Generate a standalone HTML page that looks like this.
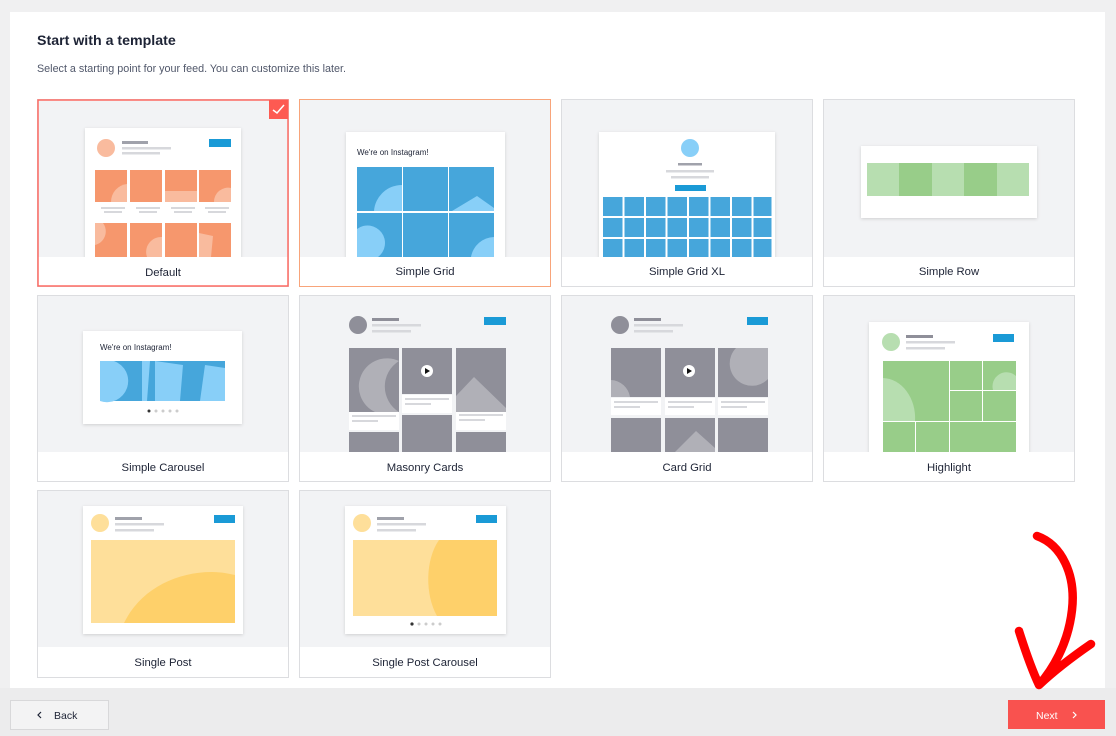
<!DOCTYPE html>
<html><head><meta charset="utf-8"><style>
html,body{margin:0;padding:0;background:#f0f0f1;width:1116px;height:736px;overflow:hidden}
svg{display:block}
text{font-family:"Liberation Sans",Arial,sans-serif}
</style></head><body>
<svg width="1116" height="736" viewBox="0 0 1116 736" xmlns="http://www.w3.org/2000/svg">
<defs>
<filter id="sh" x="-10%" y="-10%" width="120%" height="130%"><feDropShadow dx="0" dy="1" stdDeviation="1.5" flood-color="#000" flood-opacity="0.15"/></filter>
<clipPath id="c1"><rect x="37" y="99" width="252" height="158"/></clipPath>
<clipPath id="c2"><rect x="299" y="99" width="252" height="158"/></clipPath>
<clipPath id="c3"><rect x="561" y="99" width="252" height="158"/></clipPath>
<clipPath id="c6"><rect x="299" y="295" width="252" height="157"/></clipPath>
<clipPath id="c7"><rect x="561" y="295" width="252" height="157"/></clipPath>
<clipPath id="c8"><rect x="823" y="295" width="252" height="157"/></clipPath>
</defs>
<rect width="1116" height="736" fill="#f0f0f1"/>
<rect x="10" y="12" width="1095" height="676" fill="#fff"/>
<text x="37" y="45" font-size="14.2" font-weight="bold" fill="#1d2335">Start with a template</text>
<text x="37" y="72" font-size="10.6" fill="#50576a" textLength="309" lengthAdjust="spacingAndGlyphs">Select a starting point for your feed. You can customize this later.</text>

<g fill="#f2f3f5" stroke="#dcdde0" stroke-width="1">
<rect x="37.5" y="99.5" width="251" height="187"/>
<rect x="299.5" y="99.5" width="251" height="187"/>
<rect x="561.5" y="99.5" width="251" height="187"/>
<rect x="823.5" y="99.5" width="251" height="187"/>
<rect x="37.5" y="295.5" width="251" height="186"/>
<rect x="299.5" y="295.5" width="251" height="186"/>
<rect x="561.5" y="295.5" width="251" height="186"/>
<rect x="823.5" y="295.5" width="251" height="186"/>
<rect x="37.5" y="490.5" width="251" height="187"/>
<rect x="299.5" y="490.5" width="251" height="187"/>
</g>

<!-- 1 Default -->
<g clip-path="url(#c1)">
<rect x="85" y="128" width="156" height="140" fill="#fff" filter="url(#sh)"/>
<circle cx="106" cy="148" r="9" fill="#f9bb9e"/>
<rect x="122" y="141" width="26" height="3" fill="#a0a2ab"/><rect x="122" y="147" width="49" height="2.5" fill="#d7d8dc"/><rect x="122" y="152" width="38" height="2.5" fill="#d7d8dc"/>
<rect x="209" y="139" width="22" height="8" fill="#1a9ad6"/>
<g fill="#f6976d"><rect x="95" y="170" width="32" height="32"/><rect x="130" y="170" width="32" height="32"/><rect x="165" y="170" width="32" height="32"/><rect x="199" y="170" width="32" height="32"/>
<rect x="95" y="223" width="32" height="34"/><rect x="130" y="223" width="32" height="34"/><rect x="165" y="223" width="32" height="34"/><rect x="199" y="223" width="32" height="34"/></g>
<g fill="#f9bb9e"><path d="M111 202 A18 18 0 0 1 127 184 V202Z"/><rect x="165" y="191" width="32" height="11"/><path d="M214 202 A14 14 0 0 1 231 188 V202Z"/><path d="M95 223 H103 A14 14 0 0 1 95 245Z"/><path d="M147 257 A15 15 0 0 1 162 237 V257Z"/><path d="M199 233 L213 236 L211 257 H199Z"/></g>
<g fill="#d7d8dc"><rect x="101" y="207" width="24" height="2"/><rect x="136" y="207" width="24" height="2"/><rect x="171" y="207" width="24" height="2"/><rect x="205" y="207" width="24" height="2"/>
<rect x="104" y="211" width="18" height="2"/><rect x="139" y="211" width="18" height="2"/><rect x="174" y="211" width="18" height="2"/><rect x="208" y="211" width="18" height="2"/></g>
</g>
<rect x="37.5" y="257" width="251" height="29.5" fill="#fff"/>
<rect x="38" y="100" width="250" height="186" fill="none" stroke="#fd6b63" stroke-width="1.5"/>
<rect x="269" y="100" width="19" height="19" fill="#fd5a52"/>
<path d="M273 110 L277 113 L284 105" stroke="#fff" stroke-width="1.5" fill="none"/>
<text x="163" y="276" font-size="11.3" text-anchor="middle" fill="#1d2335">Default</text>

<!-- 2 Simple Grid -->
<g clip-path="url(#c2)">
<rect x="346" y="132" width="159" height="140" fill="#fff" filter="url(#sh)"/>
<text x="357" y="155" font-size="8" fill="#1d2335">We're on Instagram!</text>
<g fill="#46a6db"><rect x="357" y="167" width="45" height="44"/><rect x="403" y="167" width="45" height="44"/><rect x="449" y="167" width="45" height="44"/>
<rect x="357" y="213" width="45" height="44"/><rect x="403" y="213" width="45" height="44"/><rect x="449" y="213" width="45" height="44"/></g>
<g fill="#88cff8"><path d="M374 211 A28 28 0 0 1 402 185 V211Z"/><path d="M452 211 L477 196 L494 208 V211Z"/><path d="M357 229 A16 16 0 0 1 378 257 H357Z"/><path d="M471 257 A24 24 0 0 1 494 237 V257Z"/></g>
</g>
<rect x="299.5" y="257" width="251" height="29.5" fill="#fff"/>
<rect x="299.5" y="99.5" width="251" height="187" fill="none" stroke="#f8a47a" stroke-width="1"/>
<text x="425" y="275" font-size="11.3" text-anchor="middle" fill="#1d2335">Simple Grid</text>

<!-- 3 Simple Grid XL -->
<g clip-path="url(#c3)">
<rect x="599" y="132" width="176" height="140" fill="#fff" filter="url(#sh)"/>
<circle cx="690" cy="148" r="9" fill="#88cff8"/>
<rect x="678" y="163" width="24" height="2.5" fill="#a0a2ab"/><rect x="666" y="170" width="48" height="2.5" fill="#d7d8dc"/><rect x="671" y="176" width="38" height="2.5" fill="#d7d8dc"/>
<rect x="675" y="185" width="31" height="6" fill="#1a9ad6"/>
<g fill="#46a6db">
<rect x="603" y="197" width="19.5" height="19"/><rect x="624.5" y="197" width="19.5" height="19"/><rect x="646" y="197" width="19.5" height="19"/><rect x="667.5" y="197" width="19.5" height="19"/><rect x="689" y="197" width="19.5" height="19"/><rect x="710.5" y="197" width="19.5" height="19"/><rect x="732" y="197" width="19.5" height="19"/><rect x="753.5" y="197" width="18" height="19"/>
<rect x="603" y="218" width="19.5" height="19"/><rect x="624.5" y="218" width="19.5" height="19"/><rect x="646" y="218" width="19.5" height="19"/><rect x="667.5" y="218" width="19.5" height="19"/><rect x="689" y="218" width="19.5" height="19"/><rect x="710.5" y="218" width="19.5" height="19"/><rect x="732" y="218" width="19.5" height="19"/><rect x="753.5" y="218" width="18" height="19"/>
<rect x="603" y="239" width="19.5" height="19"/><rect x="624.5" y="239" width="19.5" height="19"/><rect x="646" y="239" width="19.5" height="19"/><rect x="667.5" y="239" width="19.5" height="19"/><rect x="689" y="239" width="19.5" height="19"/><rect x="710.5" y="239" width="19.5" height="19"/><rect x="732" y="239" width="19.5" height="19"/><rect x="753.5" y="239" width="18" height="19"/>
</g></g>
<rect x="562" y="257" width="250" height="29" fill="#fff"/>
<text x="687" y="275" font-size="11.3" text-anchor="middle" fill="#1d2335">Simple Grid XL</text>

<!-- 4 Simple Row -->
<rect x="861" y="146" width="176" height="72" fill="#fff" filter="url(#sh)"/>
<rect x="867" y="163" width="33" height="33" fill="#b7deb0"/><rect x="899" y="163" width="33" height="33" fill="#98cd89"/><rect x="932" y="163" width="33" height="33" fill="#b7deb0"/><rect x="964" y="163" width="33" height="33" fill="#98cd89"/><rect x="997" y="163" width="32" height="33" fill="#b7deb0"/>
<rect x="824" y="257" width="250" height="29" fill="#fff"/>
<text x="949" y="275" font-size="11.3" text-anchor="middle" fill="#1d2335">Simple Row</text>

<!-- 5 Simple Carousel -->
<rect x="83" y="331" width="159" height="93" fill="#fff" filter="url(#sh)"/>
<text x="100" y="350" font-size="8" fill="#1d2335">We're on Instagram!</text>
<rect x="100" y="361" width="125" height="40" fill="#46a6db"/>
<path d="M100 361 H114 A20 20 0 0 1 100 401Z" fill="#88cff8"/>
<path d="M142 361 L150 361 L147 401 H142Z" fill="#88cff8"/>
<path d="M155 361 L183 365 L180 401 H155Z" fill="#88cff8"/>
<path d="M200 401 L205 365 L225 368 V401Z" fill="#88cff8"/>
<circle cx="149" cy="411" r="1.5" fill="#333"/><circle cx="156" cy="411" r="1.5" fill="#ccc"/><circle cx="163" cy="411" r="1.5" fill="#ccc"/><circle cx="170" cy="411" r="1.5" fill="#ccc"/><circle cx="177" cy="411" r="1.5" fill="#ccc"/>
<rect x="38" y="452" width="250" height="29" fill="#fff"/>
<text x="163" y="471" font-size="11.3" text-anchor="middle" fill="#1d2335">Simple Carousel</text>

<!-- 6 Masonry -->
<g clip-path="url(#c6)">
<circle cx="358" cy="325" r="9" fill="#8f8f99"/>
<rect x="372" y="318" width="27" height="3" fill="#8f8f99"/><rect x="372" y="324" width="49" height="2.5" fill="#d7d8dc"/><rect x="372" y="330" width="39" height="2.5" fill="#d7d8dc"/>
<rect x="484" y="317" width="22" height="8" fill="#1a9ad6"/>
<g fill="#8f8f99"><rect x="349" y="348" width="50" height="64"/><rect x="402" y="348" width="50" height="46"/><rect x="456" y="348" width="50" height="64"/>
<rect x="349" y="432" width="50" height="30"/><rect x="402" y="415" width="50" height="45"/><rect x="456" y="432" width="50" height="30"/></g>
<path d="M399 361 A30 30 0 0 0 399 412 H375 A25 25 0 0 1 399 361Z" fill="#b0b0b7"/>
<path d="M456 396 L474 377 L506 408 V412 H456Z" fill="#b0b0b7"/>
<g fill="#fff"><rect x="349" y="412" width="50" height="18"/><rect x="402" y="395" width="50" height="18"/><rect x="456" y="412" width="50" height="18"/></g>
<circle cx="427" cy="371" r="6" fill="#fff"/><path d="M425 368 L430 371 L425 374Z" fill="#111"/>
<g fill="#d7d8dc"><rect x="352" y="415" width="44" height="2"/><rect x="352" y="420" width="26" height="2"/><rect x="405" y="398" width="44" height="2"/><rect x="405" y="403" width="26" height="2"/><rect x="459" y="414" width="44" height="2"/><rect x="459" y="419" width="26" height="2"/></g>
</g>
<rect x="300" y="452" width="250" height="29" fill="#fff"/>
<text x="425" y="471" font-size="11.3" text-anchor="middle" fill="#1d2335">Masonry Cards</text>

<!-- 7 Card Grid -->
<g clip-path="url(#c7)">
<circle cx="620" cy="325" r="9" fill="#8f8f99"/>
<rect x="634" y="318" width="27" height="3" fill="#8f8f99"/><rect x="634" y="324" width="49" height="2.5" fill="#d7d8dc"/><rect x="634" y="330" width="39" height="2.5" fill="#d7d8dc"/>
<rect x="747" y="317" width="21" height="8" fill="#1a9ad6"/>
<g fill="#8f8f99"><rect x="611" y="348" width="50" height="49"/><rect x="665" y="348" width="50" height="49"/><rect x="718" y="348" width="50" height="49"/>
<rect x="611" y="418" width="50" height="40"/><rect x="665" y="418" width="50" height="40"/><rect x="718" y="418" width="50" height="40"/></g>
<path d="M611 380 A20 20 0 0 1 630 397 H611Z" fill="#b0b0b7"/><path d="M736 348 A22 22 0 0 0 768 379 V348Z" fill="#b0b0b7"/><path d="M675 452 L696 431 L715 448 V452Z" fill="#b0b0b7"/>
<g fill="#fff"><rect x="611" y="398" width="50" height="17"/><rect x="665" y="398" width="50" height="17"/><rect x="718" y="398" width="50" height="17"/></g>
<circle cx="689" cy="371" r="6" fill="#fff"/><path d="M687 368 L692 371 L687 374Z" fill="#111"/>
<g fill="#d7d8dc"><rect x="614" y="401" width="44" height="2"/><rect x="614" y="406" width="26" height="2"/><rect x="668" y="401" width="44" height="2"/><rect x="668" y="406" width="26" height="2"/><rect x="721" y="401" width="44" height="2"/><rect x="721" y="406" width="26" height="2"/></g>
</g>
<rect x="562" y="452" width="250" height="29" fill="#fff"/>
<text x="687" y="471" font-size="11.3" text-anchor="middle" fill="#1d2335">Card Grid</text>

<!-- 8 Highlight -->
<g clip-path="url(#c8)">
<rect x="869" y="322" width="160" height="140" fill="#fff" filter="url(#sh)"/>
<circle cx="891" cy="342" r="9" fill="#b7deb0"/>
<rect x="906" y="335" width="27" height="3" fill="#8f8f99"/><rect x="906" y="341" width="49" height="2.5" fill="#d7d8dc"/><rect x="906" y="347" width="39" height="2.5" fill="#d7d8dc"/>
<rect x="993" y="334" width="21" height="8" fill="#1a9ad6"/>
<g fill="#98cd89"><rect x="883" y="361" width="66" height="60"/><rect x="950" y="361" width="32" height="29"/><rect x="983" y="361" width="33" height="29"/><rect x="950" y="391" width="32" height="30"/><rect x="983" y="391" width="33" height="30"/>
<rect x="883" y="422" width="32" height="35"/><rect x="916" y="422" width="33" height="35"/><rect x="950" y="422" width="66" height="35"/></g>
<path d="M883 378 A33 40 0 0 1 915 421 H883Z" fill="#b7deb0"/><path d="M993 390 A14 14 0 0 1 1016 376 V390Z" fill="#b7deb0"/>
</g>
<rect x="824" y="452" width="250" height="29" fill="#fff"/>
<text x="949" y="471" font-size="11.3" text-anchor="middle" fill="#1d2335">Highlight</text>

<!-- 9 Single Post -->
<rect x="83" y="506" width="160" height="128" fill="#fff" filter="url(#sh)"/>
<circle cx="100" cy="523" r="9" fill="#fedf9a"/>
<rect x="115" y="517" width="27" height="3" fill="#a0a2ab"/><rect x="115" y="523" width="49" height="2.5" fill="#d7d8dc"/><rect x="115" y="529" width="39" height="2.5" fill="#d7d8dc"/>
<rect x="214" y="515" width="21" height="8" fill="#1a9ad6"/>
<rect x="91" y="540" width="144" height="83" fill="#fedf9a"/>
<path d="M124 623 C140 590 175 572 212 572 C222 572 230 574 235 575 V623Z" fill="#fed06a"/>
<rect x="38" y="647" width="250" height="30" fill="#fff"/>
<text x="163" y="666" font-size="11.3" text-anchor="middle" fill="#1d2335">Single Post</text>

<!-- 10 Single Post Carousel -->
<rect x="345" y="506" width="161" height="128" fill="#fff" filter="url(#sh)"/>
<circle cx="362" cy="523" r="9" fill="#fedf9a"/>
<rect x="377" y="517" width="27" height="3" fill="#a0a2ab"/><rect x="377" y="523" width="49" height="2.5" fill="#d7d8dc"/><rect x="377" y="529" width="39" height="2.5" fill="#d7d8dc"/>
<rect x="476" y="515" width="21" height="8" fill="#1a9ad6"/>
<rect x="353" y="540" width="144" height="76" fill="#fedf9a"/>
<path d="M439 540 H497 V616 H437 C425 595 425 560 439 540Z" fill="#fed06a"/>
<circle cx="412" cy="624" r="1.6" fill="#333"/><circle cx="419" cy="624" r="1.5" fill="#ccc"/><circle cx="426" cy="624" r="1.5" fill="#ccc"/><circle cx="433" cy="624" r="1.5" fill="#ccc"/><circle cx="440" cy="624" r="1.5" fill="#ccc"/>
<rect x="300" y="647" width="250" height="30" fill="#fff"/>
<text x="425" y="666" font-size="11.3" text-anchor="middle" fill="#1d2335">Single Post Carousel</text>

<!-- bottom bar -->
<rect x="0" y="688" width="1116" height="48" fill="#ececed"/>
<rect x="10.5" y="700.5" width="98" height="29" fill="#f3f3f4" stroke="#d8d8da"/>
<path d="M41 712 L38 715 L41 718" stroke="#1d2335" stroke-width="1.2" fill="none"/>
<text x="54" y="719" font-size="10.5" fill="#1d2335">Back</text>
<rect x="1008" y="700" width="97" height="29" fill="#f9524f"/>
<text x="1036" y="719" font-size="10.5" fill="#fff">Next</text>
<path d="M1073 712 L1076 715 L1073 718" stroke="#fff" stroke-width="1.2" fill="none"/>

<!-- arrow -->
<path d="M1037 536 C1062 545 1076 575 1072 610 C1068 645 1052 670 1039 685 M1019 631 C1025 650 1032 670 1039 685 C1055 670 1075 655 1091 644" stroke="#ff0000" stroke-width="8.5" fill="none" stroke-linecap="round" stroke-linejoin="round"/>
</svg>
</body></html>
